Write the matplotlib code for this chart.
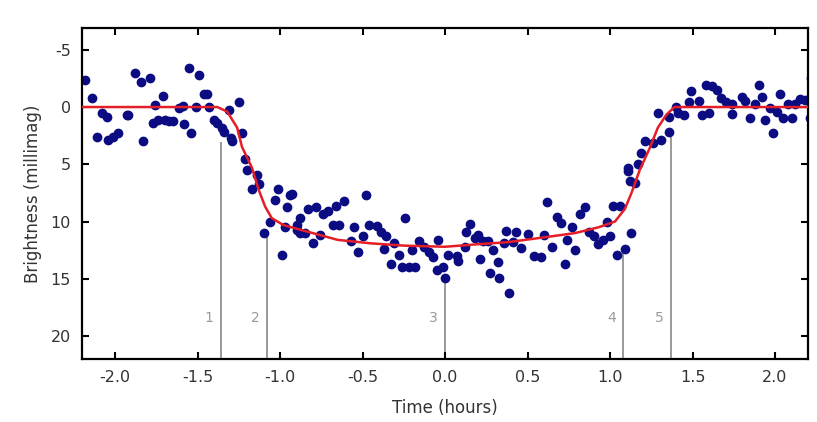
import matplotlib
matplotlib.use("Agg")
import matplotlib.pyplot as plt

plt.rcParams['axes.unicode_minus'] = False

# observed points (hours, millimag)
t_obs = [-2.18, -2.14, -2.08, -2.05, -2.11, -2.04, -2.01, -1.98, -1.93, -1.92,
         -1.88, -1.84, -1.79, -1.83, -1.76, -1.71, -1.77, -1.74, -1.70, -1.67,
         -1.65, -1.61, -1.59, -1.58, -1.54, -1.55, -1.49, -1.51, -1.46, -1.44,
         -1.43, -1.40, -1.38, -1.35, -1.31, -1.34, -1.30, -1.25, -1.23, -1.29,
         -1.21, -1.20, -1.14, -1.13, -1.17, -1.01, -1.03, -0.94, -0.96, -1.06,
         -1.10, -0.97, -0.90, -0.99, -0.93, -0.88, -0.83, -0.78, -0.74, -0.71,
         -0.66, -0.61, -0.48, -0.90, -0.88, -0.85, -0.80, -0.76, -0.68, -0.64,
         -0.55, -0.57, -0.50, -0.53, -0.46, -0.41, -0.39, -0.36, -0.37, -0.31,
         -0.28, -0.33, -0.26, -0.22, -0.18, -0.24, -0.20, -0.16, -0.13, -0.10,
         -0.07, -0.04, -0.05, -0.01, 0.00, 0.02, 0.07, 0.08, 0.12, 0.13,
         0.15, 0.18, 0.20, 0.23, 0.26, 0.21, 0.29, 0.32, 0.27, 0.33,
         0.39, 0.36, 0.37, 0.43, 0.41, 0.46, 0.50, 0.54, 0.58, 0.60,
         0.65, 0.62, 0.68, 0.70, 0.73, 0.74, 0.77, 0.79, 0.82, 0.85,
         0.87, 0.90, 0.93, 0.96, 0.98, 1.00, 1.02, 1.06, 1.04, 1.09,
         1.12, 1.11, 1.13, 1.15, 1.11, 1.17, 1.19, 1.21, 1.26, 1.31,
         1.36, 1.29, 1.36, 1.41, 1.45, 1.40, 1.48, 1.49, 1.54, 1.56,
         1.58, 1.62, 1.65, 1.60, 1.67, 1.70, 1.74, 1.74, 1.80, 1.82,
         1.85, 1.88, 1.90, 1.92, 1.94, 1.97, 1.99, 2.03, 2.01, 2.05,
         2.08, 2.10, 2.12, 2.15, 2.18, 2.21, 2.22]
mag_obs = [-2.4, -0.8, 0.5, 0.9, 2.6, 2.9, 2.6, 2.3, 0.7, 0.7,
           -3.0, -2.2, -2.5, 3.0, -0.2, -1.0, 1.4, 1.1, 1.1, 1.2,
           1.2, 0.1, -0.1, 1.5, 2.3, -3.4, -2.8, 0.0, -1.1, -1.1,
           0.0, 1.1, 1.4, 1.8, 0.3, 2.2, 2.7, -0.4, 2.3, 3.0,
           4.5, 5.5, 5.9, 6.7, 7.2, 7.2, 8.1, 7.7, 8.7, 10.0,
           11.0, 10.5, 10.7, 12.9, 7.6, 9.7, 8.9, 8.7, 9.3, 9.1,
           8.6, 8.2, 7.7, 10.3, 11.0, 11.0, 11.9, 11.2, 10.3, 10.3,
           10.5, 11.7, 11.3, 12.7, 10.3, 10.4, 10.9, 11.3, 12.4, 11.9,
           12.9, 13.7, 14.0, 14.0, 14.0, 9.7, 12.5, 11.7, 12.2, 12.7,
           13.1, 11.6, 14.2, 14.0, 14.9, 12.9, 13.0, 13.4, 12.2, 10.9,
           10.2, 11.4, 11.2, 11.7, 11.7, 13.3, 12.5, 13.5, 14.5, 14.9,
           16.2, 11.9, 10.8, 10.9, 11.8, 12.3, 11.1, 13.0, 13.1, 11.2,
           12.2, 8.3, 9.6, 10.1, 13.7, 11.6, 10.5, 12.5, 9.3, 8.7,
           10.9, 11.3, 12.0, 11.6, 10.0, 11.3, 8.6, 8.6, 12.9, 12.4,
           6.5, 5.6, 11.0, 6.6, 5.3, 5.0, 4.0, 3.0, 3.1, 2.9,
           2.2, 0.5, 0.9, 0.5, 0.7, 0.0, -0.4, -1.4, -0.5, 0.7,
           -1.9, -1.8, -1.5, 0.5, -0.8, -0.4, -0.3, 0.6, -0.9, -0.5,
           1.0, -0.3, -1.9, -0.9, 1.1, 0.1, 2.3, -1.1, 0.4, 1.0,
           -0.3, 1.0, -0.3, -0.7, -0.6, 1.0, -2.5]

# fitted model curve
t_fit = [-2.2, -1.38, -1.32, -1.26, -1.23, -1.17, -1.13, -1.09, -1.05, -0.98,
         -0.88, -0.65, -0.45, -0.25, 0.0, 0.18, 0.38, 0.59, 0.79, 0.93,
         1.03, 1.09, 1.13, 1.18, 1.24, 1.29, 1.34, 1.39, 2.2]
mag_fit = [0.0, 0.0, 0.4, 1.8, 3.5, 5.3, 7.2, 8.7, 9.7, 10.3,
           10.7, 11.6, 11.9, 12.1, 12.2, 12.0, 11.8, 11.4, 11.0, 10.5,
           10.0, 8.9, 7.5, 5.5, 3.6, 1.8, 0.7, 0.0, 0.0]

# contact points
contact_labels = ["1", "2", "3", "4", "5"]
contact_t = [-1.36, -1.08, 0.0, 1.08, 1.37]
contact_top = [3.1, 11.4, 15.3, 12.8, 2.7]

fig = plt.figure(figsize=(8.17, 4.22), dpi=100)
ax = fig.add_axes([0.1004, 0.1493, 0.8886, 0.7843])

for lab, t, top in zip(contact_labels, contact_t, contact_top):
    ax.plot([t, t], [22, top], color="#9a9a9a", lw=1.4, zorder=1)
    ax.text(t - 0.045, 18.4, lab, color="#9a9a9a", fontsize=10,
            ha="right", va="center")

ax.plot(t_obs, mag_obs, "o", color="#0b0b82", markersize=6, zorder=2)
ax.plot(t_fit, mag_fit, "-", color="#e41e26", lw=1.8, zorder=3)

ax.set_xlim(-2.2, 2.2)
ax.set_ylim(22, -6.9)
ax.set_xticks([-2.0, -1.5, -1.0, -0.5, 0.0, 0.5, 1.0, 1.5, 2.0])
ax.set_yticks([-5, 0, 5, 10, 15, 20])
ax.xaxis.set_major_formatter(matplotlib.ticker.FormatStrFormatter("%.1f"))
ax.tick_params(direction="in", length=5, width=1.5, top=True, right=True,
               labelsize=11.5, labelcolor="#333333", pad=8)
for s in ax.spines.values():
    s.set_linewidth(1.6)

ax.set_xlabel("Time (hours)", fontsize=12, color="#333333", labelpad=10)
ax.set_ylabel("Brightness (millimag)", fontsize=12, color="#333333", labelpad=6)

plt.savefig("out.png", dpi=100)
